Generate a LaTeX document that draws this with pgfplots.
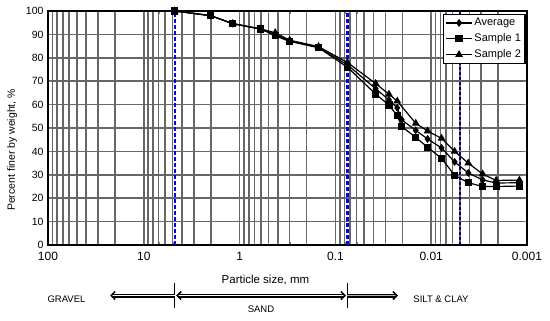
\documentclass[border=0pt]{standalone}
\usepackage{fontspec}
\setmainfont{Liberation Sans}
\usepackage{pgfplots}
\pgfplotsset{compat=1.18}
\usetikzlibrary{arrows.meta}
\begin{document}
\begin{tikzpicture}
\begin{axis}[
  scale only axis, width=479pt, height=234pt,
  xmode=log, x dir=reverse,
  xmin=0.001, xmax=100, ymin=0, ymax=100,
  xtick={100,10,1,0.1,0.01,0.001},
  xticklabels={100,10,1,0.1,0.01,0.001},
  minor xtick={20,30,40,50,60,70,80,90,2,3,4,5,6,7,8,9,0.2,0.3,0.4,0.5,0.6,0.7,0.8,0.9,0.02,0.03,0.04,0.05,0.06,0.07,0.08,0.09,0.002,0.003,0.004,0.005,0.006,0.007,0.008,0.009},
  ytick={0,10,...,100},
  grid=both,
  major grid style={draw=black!60, line width=1.6pt},
  minor grid style={draw=black!60, line width=1.6pt},
  axis line style={black, line width=1.4pt},
  xticklabel style={font=\fontsize{12}{14}\selectfont, yshift=-4pt},
  yticklabel style={font=\fontsize{10.5}{12}\selectfont, xshift=-1pt},
  /pgf/number format/assume math mode=true,
  xlabel={Particle size, mm},
  xlabel style={font=\fontsize{11.5}{13}\selectfont, at={(axis description cs:0.454,-0.15)}, anchor=center},
  ylabel={Percent finer by weight, \%},
  ylabel style={font=\fontsize{10.5}{13}\selectfont, at={(axis description cs:-0.075,0.406)}, anchor=center},
  clip=false,
  legend style={at={(rel axis cs:0.997,0.988)}, anchor=north east, draw=black, line width=1.2pt,
    fill=white, font=\fontsize{11}{13}\selectfont, row sep=2.5pt, inner sep=2pt},
  legend cell align=left,
  legend image code/.code={\draw[line width=1.2pt, mark repeat=2,mark phase=2] plot coordinates {(0cm,0cm)(0.45cm,0cm)(0.9cm,0cm)};},
]
% boundary lines
\addplot[blue, line width=2.2pt, dash pattern=on 4pt off 2pt, forget plot] coordinates {(4.75,0) (4.75,100)};
\addplot[blue, line width=2.4pt, dash pattern=on 4pt off 2pt, forget plot] coordinates {(0.075,0) (0.075,100)};
\addplot[blue!50!black, line width=1.6pt, dash pattern=on 3pt off 2pt, forget plot] coordinates {(0.005,0) (0.005,100)};

% Average
\addplot[black, line width=1.2pt, mark=diamond*, mark size=3pt] coordinates {
(4.75,100) (2.0,98) (1.18,94.6) (0.6,92.3) (0.425,90) (0.3,87.3) (0.15,84.5) (0.075,77)
(0.038,66.8) (0.0276,62) (0.0226,58.6) (0.0203,53.5) (0.0145,49) (0.0109,45.3) (0.0078,41.5)
(0.0057,35.5) (0.0041,30.8) (0.0029,27.8) (0.0021,26.5) (0.0012,26.6)};
\addlegendentry{Average}
% Sample 1
\addplot[black, line width=1.2pt, mark=square*, mark size=3pt] coordinates {
(4.75,100) (2.0,98) (1.18,94.6) (0.6,92.3) (0.425,89.4) (0.3,87) (0.15,84.3) (0.075,76)
(0.038,64.5) (0.0276,59.8) (0.0226,55.2) (0.0203,50.6) (0.0145,46) (0.0109,41.8) (0.0078,37)
(0.0057,29.8) (0.0041,26.6) (0.0029,25) (0.0021,25) (0.0012,25.2)};
\addlegendentry{Sample 1}
% Sample 2
\addplot[black, line width=1.2pt, mark=triangle*, mark size=3.4pt] coordinates {
(4.75,100) (2.0,98) (1.18,94.6) (0.6,92.3) (0.425,90.7) (0.3,87.5) (0.15,84.8) (0.075,78)
(0.038,69) (0.0276,64.4) (0.0226,61.5) (0.0145,52) (0.0109,48.7) (0.0078,45.6)
(0.0057,40) (0.0041,35) (0.0029,30.3) (0.0021,27.6) (0.0012,27.7)};
\addlegendentry{Sample 2}

% soil classification annotation
\draw[black, line width=1.3pt] (axis cs:4.75,-16.2) -- (axis cs:4.75,-26.9);
\draw[black, line width=1.3pt] (axis cs:0.075,-16.2) -- (axis cs:0.075,-26.9);
\draw[double=white, double distance=1.8pt, line width=1.1pt, -{Straight Barb[length=4pt,width=8pt,line width=1.5pt]}]
  (axis cs:4.75,-21.6) -- (axis cs:22.5,-21.6);
\draw[double=white, double distance=1.8pt, line width=1.1pt, {Straight Barb[length=4pt,width=8pt,line width=1.5pt]}-{Straight Barb[length=4pt,width=8pt,line width=1.5pt]}]
  (axis cs:4.6,-21.6) -- (axis cs:0.0775,-21.6);
\draw[double=gray!60, double distance=1.8pt, line width=1.1pt, -{Straight Barb[length=4pt,width=8pt,line width=1.5pt]}]
  (axis cs:0.075,-21.6) -- (axis cs:0.0222,-21.6);
\node[font=\fontsize{9.5}{11}\selectfont] at (axis cs:64.1,-23.1) {GRAVEL};
\node[font=\fontsize{9.5}{11}\selectfont] at (axis cs:0.598,-27.4) {SAND};
\node[font=\fontsize{9.5}{11}\selectfont] at (axis cs:0.0079,-23.1) {SILT \& CLAY};
\end{axis}
\pgfresetboundingbox
\path ([xshift=-48pt,yshift=-76pt]current axis.south west) rectangle ([xshift=23pt,yshift=11pt]current axis.north east);
\end{tikzpicture}
\end{document}
